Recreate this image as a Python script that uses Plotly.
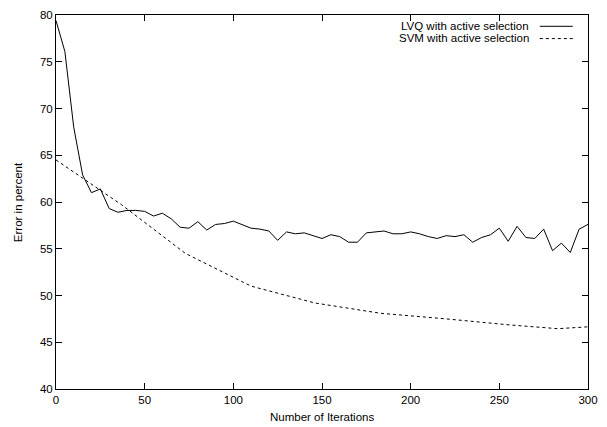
import plotly.graph_objects as go

# ---- data ----
lvq_iter = list(range(0, 301, 5))
lvq_err = [79.4, 76.1, 68.0, 62.9, 61.0, 61.4, 59.3, 58.9, 59.1, 59.1,
           59.0, 58.5, 58.8, 58.2, 57.3, 57.2, 57.9, 57.0, 57.6, 57.7,
           57.95, 57.6, 57.2, 57.1, 56.9, 55.9, 56.8, 56.6, 56.7, 56.4,
           56.1, 56.5, 56.3, 55.7, 55.7, 56.7, 56.8, 56.9, 56.6, 56.6,
           56.8, 56.6, 56.3, 56.1, 56.4, 56.3, 56.5, 55.7, 56.2, 56.5,
           57.2, 55.8, 57.4, 56.2, 56.1, 57.1, 54.8, 55.6, 54.6, 57.1, 57.6]

svm_iter = [0, 37, 73, 110, 146, 183, 220, 256, 283, 300]
svm_err = [64.5, 59.7, 54.5, 51.0, 49.2, 48.1, 47.5, 46.85, 46.45, 46.65]

x_ticks = [0, 50, 100, 150, 200, 250, 300]
y_ticks = [40, 45, 50, 55, 60, 65, 70, 75, 80]

labels = ["LVQ with active selection", "SVM with active selection"]
x_title = "Number of Iterations"
y_title = "Error in percent"

# ---- layout geometry (pixels) ----
W, H = 607, 427
L, R, T, B = 55.5, 596.5, 9, 389.5

def px(xp):
    return (xp - L) / (R - L)

def py(yp):
    return (B - yp) / (B - T)

FONT = "Liberation Sans, Arial, Helvetica, sans-serif"
FS = 11.5

fig = go.Figure()
fig.add_trace(go.Scatter(x=lvq_iter, y=lvq_err, mode="lines", name=labels[0],
                         line=dict(color="black", width=1), showlegend=False))
fig.add_trace(go.Scatter(x=svm_iter, y=svm_err, mode="lines", name=labels[1],
                         line=dict(color="black", width=1, dash="3px,3px"),
                         showlegend=False))

axis_common = dict(showline=True, linecolor="black", linewidth=1, mirror="ticks",
                   ticks="inside", ticklen=6, tickwidth=1, tickcolor="black",
                   showgrid=False, zeroline=False,
                   tickfont=dict(family=FONT, size=FS, color="black"))

fig.update_xaxes(range=[0, 300], tickvals=x_ticks, **axis_common)
fig.update_yaxes(range=[40, 80], tickvals=y_ticks, **axis_common)

annotations = [
    dict(text=x_title, xref="paper", yref="paper", x=0.5, y=py(418),
         xanchor="center", yanchor="middle", showarrow=False,
         font=dict(family=FONT, size=FS, color="black")),
    dict(text=y_title, xref="paper", yref="paper", x=px(17), y=0.5,
         xanchor="center", yanchor="middle", showarrow=False, textangle=-90,
         font=dict(family=FONT, size=FS, color="black")),
]
shapes = []
for i, (lab, ypix) in enumerate(zip(labels, [20, 32.5])):
    annotations.append(dict(text=lab, xref="paper", yref="paper", x=px(539), y=py(ypix),
                            xanchor="right", yanchor="middle", showarrow=False,
                            font=dict(family=FONT, size=FS, color="black")))
    shapes.append(dict(type="line", xref="paper", yref="paper",
                       x0=px(547.5), x1=px(581), y0=py(ypix + 0.5), y1=py(ypix + 0.5),
                       line=dict(color="black", width=1,
                                 dash="solid" if i == 0 else "3px,3px")))

fig.update_layout(width=W, height=H, paper_bgcolor="white", plot_bgcolor="white",
                  margin=dict(l=L, r=W - R, t=T, b=H - B, pad=0),
                  annotations=annotations, shapes=shapes, showlegend=False,
                  font=dict(family=FONT, size=FS, color="black"))

fig.write_html("out.html", config={"displayModeBar": False},
               post_script="document.body.style.margin='0px';"
                           "document.documentElement.style.overflow='hidden';")
